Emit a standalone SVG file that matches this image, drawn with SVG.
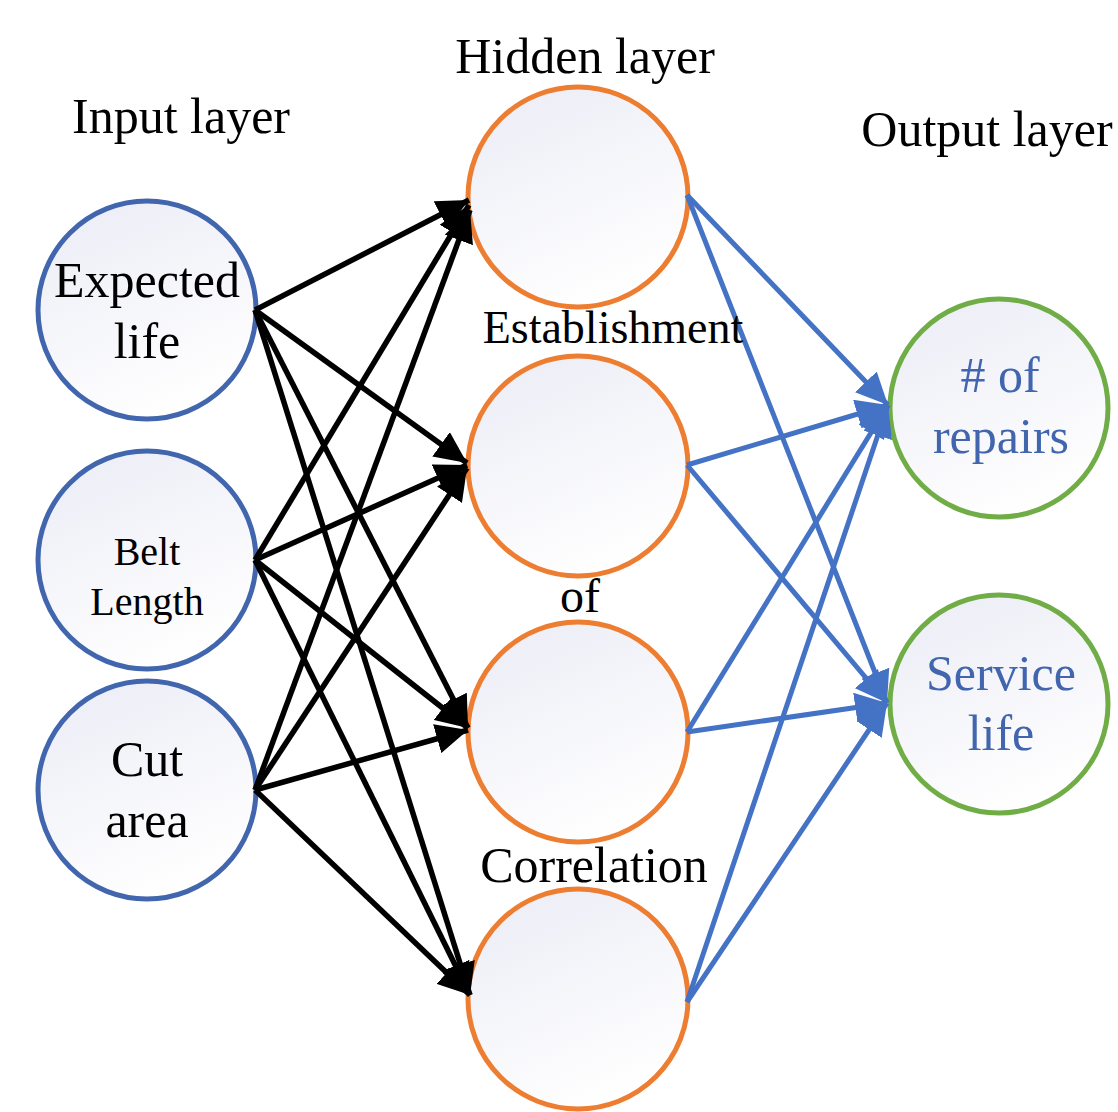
<svg xmlns="http://www.w3.org/2000/svg" width="1118" height="1112" viewBox="0 0 1118 1112">
<style>
text { font-family: "Liberation Serif", "Times New Roman", serif; fill: #000; text-anchor: middle; }
.in { fill: url(#g); stroke: #4166AE; stroke-width: 5; }
.hid { fill: url(#g); stroke: #ED7D31; stroke-width: 5; }
.out { fill: url(#g); stroke: #70AD47; stroke-width: 5; }
.blk { stroke: #000; stroke-width: 5.5; fill: none; marker-end: url(#ab); }
.blu { stroke: #4472C4; stroke-width: 5; fill: none; marker-end: url(#au); }
.bt { fill: #4166AE; }
</style>
<defs>
<linearGradient id="g" x1="0.15" y1="0" x2="0.6" y2="1">
<stop offset="0" stop-color="#ECEDF6"/>
<stop offset="1" stop-color="#FFFFFF"/>
</linearGradient>
<marker id="ab" markerUnits="userSpaceOnUse" markerWidth="32" markerHeight="30" refX="32" refY="15" orient="auto">
<path d="M0,0 L32,15 L0,30 z" fill="#000"/>
</marker>
<marker id="au" markerUnits="userSpaceOnUse" markerWidth="32" markerHeight="30" refX="32" refY="15" orient="auto">
<path d="M0,0 L32,15 L0,30 z" fill="#4472C4"/>
</marker>
</defs>
<rect width="1118" height="1112" fill="#fff"/>
<g id="titles">
<text x="181" y="133" font-size="50">Input layer</text>
<text x="585" y="73" font-size="50">Hidden layer</text>
<text x="987" y="146" font-size="50">Output layer</text>
</g>
<g id="in1"><circle class="in" cx="147" cy="310" r="109"/><text x="147" y="297" font-size="50">Expected</text><text x="147" y="358" font-size="50">life</text></g>
<g id="in2"><circle class="in" cx="147" cy="560" r="109"/><text x="147" y="565" font-size="40">Belt</text><text x="147" y="615" font-size="40">Length</text></g>
<g id="in3"><circle class="in" cx="147" cy="790" r="109"/><text x="147" y="776" font-size="50">Cut</text><text x="147" y="837" font-size="50">area</text></g>
<g id="h1"><circle class="hid" cx="578" cy="197" r="110"/></g>
<g id="h2"><circle class="hid" cx="578" cy="466" r="110"/></g>
<g id="h3"><circle class="hid" cx="578" cy="732" r="110"/></g>
<g id="h4"><circle class="hid" cx="578" cy="999" r="110"/></g>
<g id="o1"><circle class="out" cx="999" cy="408" r="109"/><text class="bt" x="1000" y="392" font-size="50"># of</text><text class="bt" x="1001" y="453" font-size="50">repairs</text></g>
<g id="o2"><circle class="out" cx="999" cy="704" r="109"/><text class="bt" x="1001" y="690" font-size="50">Service</text><text class="bt" x="1001" y="750" font-size="50">life</text></g>
<g id="connectors">
<line class="blk" x1="255" y1="310" x2="469" y2="200"/>
<line class="blk" x1="255" y1="310" x2="467" y2="463"/>
<line class="blk" x1="255" y1="310" x2="468" y2="728"/>
<line class="blk" x1="255" y1="310" x2="470" y2="995"/>
<line class="blk" x1="255" y1="560" x2="469" y2="205"/>
<line class="blk" x1="255" y1="560" x2="467" y2="465"/>
<line class="blk" x1="255" y1="560" x2="468" y2="728"/>
<line class="blk" x1="255" y1="560" x2="470" y2="995"/>
<line class="blk" x1="255" y1="790" x2="470" y2="210"/>
<line class="blk" x1="255" y1="790" x2="467" y2="468"/>
<line class="blk" x1="255" y1="790" x2="468" y2="730"/>
<line class="blk" x1="255" y1="790" x2="470" y2="995"/>
<line class="blu" x1="687" y1="195" x2="888" y2="405"/>
<line class="blu" x1="687" y1="195" x2="887" y2="703"/>
<line class="blu" x1="687" y1="465" x2="888" y2="405"/>
<line class="blu" x1="687" y1="465" x2="887" y2="703"/>
<line class="blu" x1="687" y1="732" x2="888" y2="405"/>
<line class="blu" x1="687" y1="732" x2="887" y2="703"/>
<line class="blu" x1="687" y1="1002" x2="888" y2="405"/>
<line class="blu" x1="687" y1="1002" x2="887" y2="703"/>
</g>
<g id="hidden-labels">
<text x="613" y="343" font-size="46">Establishment</text>
<text x="580" y="612" font-size="48">of</text>
<text x="594" y="882" font-size="50">Correlation</text>
</g>
</svg>
